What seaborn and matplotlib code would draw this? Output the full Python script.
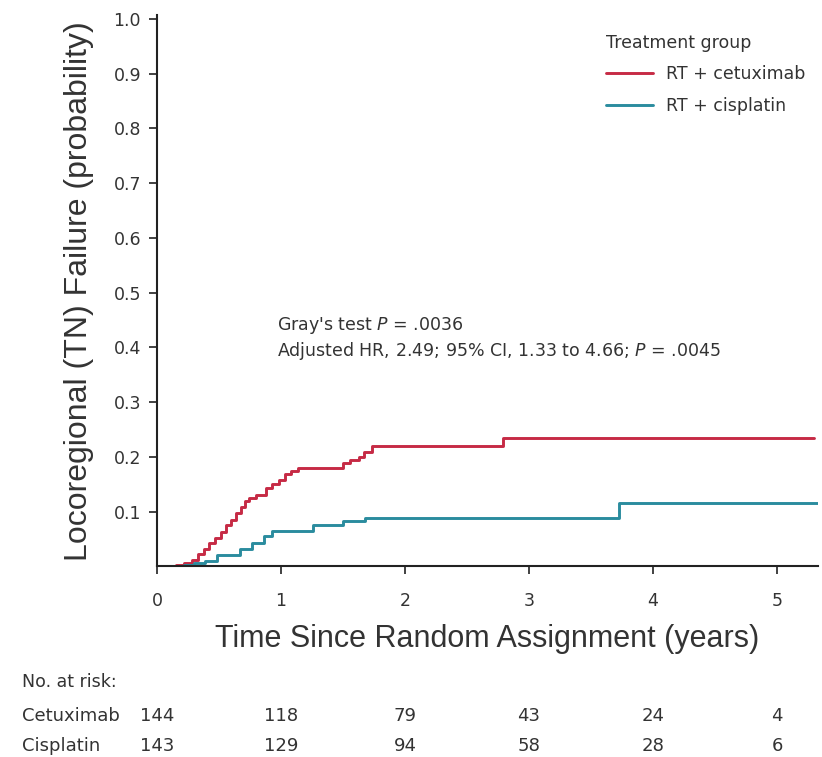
import numpy as np
import pandas as pd
import seaborn as sns
import matplotlib.pyplot as plt
import matplotlib.transforms as mtransforms

# ==========================================
# data
# ==========================================
cetux_time = [0.0, 0.15, 0.22, 0.28, 0.33, 0.38, 0.42, 0.47, 0.52, 0.56, 0.60, 0.64, 0.68, 0.71,
              0.74, 0.80, 0.88, 0.93, 0.98, 1.03, 1.08, 1.14, 1.50, 1.56, 1.63, 1.67, 1.73, 2.79, 5.30]
cetux_fail = [0.0, 0.003, 0.006, 0.012, 0.022, 0.032, 0.042, 0.052, 0.062, 0.075, 0.085, 0.098, 0.108, 0.120,
              0.125, 0.130, 0.143, 0.150, 0.158, 0.168, 0.174, 0.179, 0.188, 0.194, 0.200, 0.208, 0.219, 0.234, 0.234]

cispl_time = [0.0, 0.22, 0.30, 0.39, 0.48, 0.67, 0.77, 0.86, 0.93, 1.26, 1.50, 1.68, 3.73, 5.33]
cispl_fail = [0.0, 0.003, 0.006, 0.010, 0.020, 0.032, 0.042, 0.055, 0.064, 0.076, 0.082, 0.089, 0.115, 0.115]

risk_years = [0, 1, 2, 3, 4, 5]
risk_cetux = [144, 118, 79, 43, 24, 4]
risk_cispl = [143, 129, 94, 58, 28, 6]

group_names = ["RT + cetuximab", "RT + cisplatin"]
group_colors = ["#c62a45", "#2a8c9e"]

df = pd.concat([
    pd.DataFrame({"Time": cetux_time, "Failure": cetux_fail, "Treatment group": group_names[0]}),
    pd.DataFrame({"Time": cispl_time, "Failure": cispl_fail, "Treatment group": group_names[1]}),
])

# ==========================================
# style
# ==========================================
sns.set_style("ticks")
plt.rcParams['font.family'] = ['DejaVu Sans']
plt.rcParams['mathtext.fontset'] = 'dejavusans'
label_font = ['Liberation Sans', 'DejaVu Sans']
ink = '#333333'

fig = plt.figure(figsize=(8.22, 7.57), dpi=100)
ax = fig.add_axes([0.191, 0.252, 0.804, 0.728])

for name, col in zip(group_names, group_colors):
    sub = df[df["Treatment group"] == name]
    sns.lineplot(data=sub, x="Time", y="Failure", color=col, linewidth=2.1,
                 drawstyle='steps-post', ax=ax, label=name)

ax.set_xlim(0, 5.33)
ax.set_ylim(0, 1.007)
ax.set_xticks(risk_years)
ax.set_yticks(np.round(np.arange(0.1, 1.01, 0.1), 1))
ax.set_yticklabels([f"{v:.1f}" for v in np.arange(0.1, 1.01, 0.1)])
ax.tick_params(axis='both', labelsize=12.5, colors=ink, length=5.5, width=1.3)
ax.tick_params(axis='x', pad=13)
ax.tick_params(axis='y', pad=6)
for s in ['left', 'bottom']:
    ax.spines[s].set_linewidth(1.5)
    ax.spines[s].set_color('#222222')
sns.despine(ax=ax)

ax.set_xlabel("Time Since Random Assignment (years)", fontsize=22, family=label_font, color=ink, labelpad=10)
ax.set_ylabel("Locoregional (TN) Failure (probability)", fontsize=23, family=label_font, color=ink, labelpad=14)

ax.text(0.97, 0.44, "Gray's test $\\it{P}$ = .0036", fontsize=12.5, color=ink, va='center')
ax.text(0.97, 0.393, "Adjusted HR, 2.49; 95% CI, 1.33 to 4.66; $\\it{P}$ = .0045", fontsize=12.5,
        color=ink, va='center')

leg = ax.legend(title="Treatment group", loc='upper right', bbox_to_anchor=(1.005, 0.995),
                frameon=False, fontsize=12.5, title_fontsize=12.5, handlelength=2.7,
                handletextpad=0.75, alignment='left', labelspacing=0.8)
for t in leg.get_texts():
    t.set_color(ink)
leg.get_title().set_color(ink)

# ==========================================
# no. at risk table
# ==========================================
trans = mtransforms.blended_transform_factory(ax.transData, fig.transFigure)
fig.text(22 / 822, 1 - 682 / 757, "No. at risk:", fontsize=12.5, color=ink, va='center')
for row, label, vals in [(716, "Cetuximab", risk_cetux), (746, "Cisplatin", risk_cispl)]:
    fig.text(22 / 822, 1 - row / 757, label, fontsize=13, color=ink, va='center')
    for yr, v in zip(risk_years, vals):
        ax.text(yr, 1 - row / 757, str(v), transform=trans, fontsize=13, color=ink,
                ha='center', va='center', clip_on=False)

fig.savefig("out.png", dpi=100)
